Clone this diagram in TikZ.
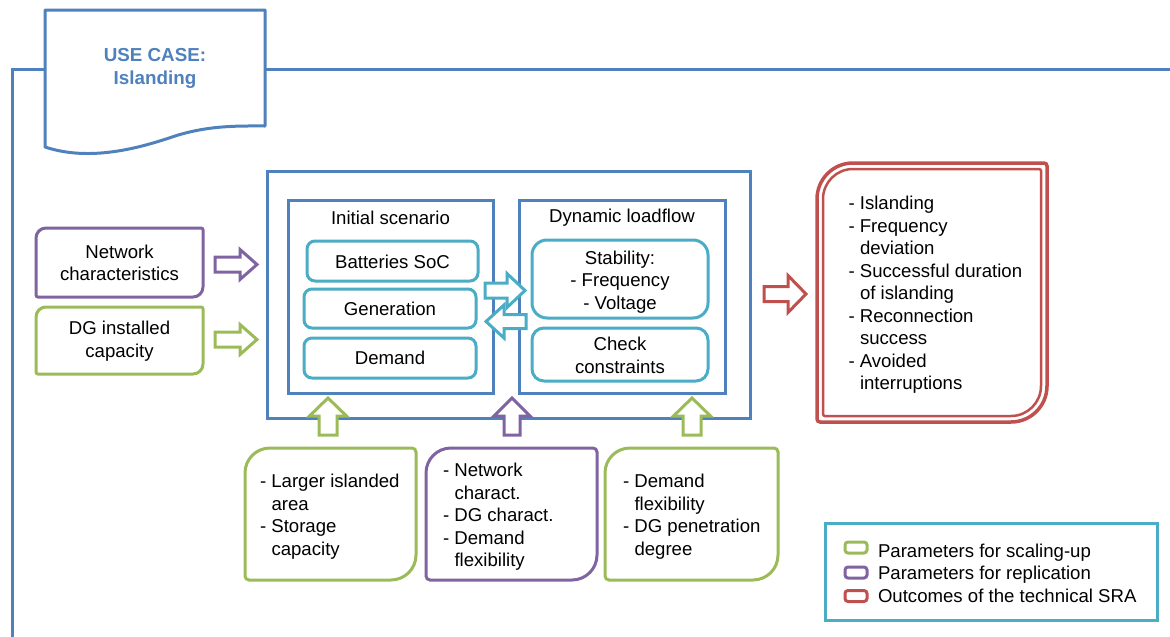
\documentclass[tikz,border=0pt]{standalone}
\usepackage{fontspec}
\setmainfont{Liberation Sans}
\usetikzlibrary{shadows}
\definecolor{cblue}{HTML}{4F81BD}
\definecolor{cteal}{HTML}{4BACC6}
\definecolor{cgreen}{HTML}{9BBB59}
\definecolor{cpurple}{HTML}{8064A2}
\definecolor{cred}{HTML}{C0504D}
\newcommand{\diagpath}[4]{%
  \draw[#2] ([yshift=-#3]#1.north west) arc[start angle=180,end angle=90,radius=#3]
    -- ([xshift=-#4]#1.north east) arc[start angle=90,end angle=0,radius=#4]
    -- ([yshift=#3]#1.south east) arc[start angle=0,end angle=-90,radius=#3]
    -- ([xshift=#4]#1.south west) arc[start angle=270,end angle=180,radius=#4] -- cycle;}
\newcommand{\barrow}[8]{%
  \begin{scope}[shift={(#2,#3)},rotate=#4]
    \draw[#1] (0,-#6) -- (#5-#8,-#6) -- (#5-#8,-#7) -- (#5,0) -- (#5-#8,#7) -- (#5-#8,#6) -- (0,#6) -- cycle;
  \end{scope}}
\newcommand{\ind}{\hspace*{11.5pt}}
\tikzset{
  txt/.style={font=\fontsize{18.6}{22.5}\selectfont, inner sep=0pt, outer sep=0pt, text=black},
  shapebox/.style={inner sep=0pt, outer sep=0pt, draw=none},
  bluebox/.style={draw=cblue, line width=3pt, fill=white, inner sep=0pt, outer sep=0pt,
    drop shadow={shadow xshift=2pt, shadow yshift=-2pt, opacity=0.3, fill=black!60}},
  tealbox/.style={draw=cteal, line width=3pt, fill=white, inner sep=0pt, outer sep=0pt},
  barr/.style={fill=white, line width=3pt, line join=miter},
  legitem/.style={line width=3pt, rounded corners=3pt, minimum width=22pt, minimum height=11pt, inner sep=0pt, fill=white},
}
\begin{document}
\begin{tikzpicture}[x=1pt,y=1pt]
\useasboundingbox (0,0) rectangle (1170,-637);
% frame lines
\coordinate (fbot) at (12,-637);
\coordinate (fcorner) at (12,-69);
\coordinate (fleft) at (45,-69);
\coordinate (fright) at (265,-69);
\coordinate (fend) at (1170,-69);
\draw[cblue, line width=3pt] (fbot) -- (fcorner) -- (fleft);
\draw[cblue, line width=3pt] (fright) -- (fend);
% document shape
\draw[cblue, line width=3pt, fill=white, line join=round] (45,-10) -- (265,-10) -- (265,-126)
  .. controls (240,-126) and (210,-125) .. (175,-136)
  .. controls (140,-148) and (90,-162) .. (45,-147) -- cycle;
\node[font=\fontsize{18.8}{23}\selectfont\bfseries, text=cblue, align=center] (title) at (155,-68.5) {USE CASE:\\Islanding};

% left parameter boxes
\node[shapebox, minimum width=167pt, minimum height=69pt] (netbox) at (119.5,-262.5) {};
\diagpath{netbox}{cpurple, line width=3pt}{10pt}{2pt}
\node[txt, align=center] (nettxt) at (119.5,-263) {Network\\characteristics};
\node[shapebox, minimum width=167pt, minimum height=67pt] (dgbox) at (119.5,-340.5) {};
\diagpath{dgbox}{cgreen, line width=3pt}{10pt}{2pt}
\node[txt, align=center] (dgtxt) at (119.5,-341) {DG installed\\capacity};

% outer box
\node[bluebox, minimum width=483pt, minimum height=247pt] (outer) at (508.5,-294.5) {};
\node[bluebox, minimum width=205pt, minimum height=193pt] (init) at (390.5,-296.5) {};
\node[bluebox, minimum width=206pt, minimum height=193pt] (dyn) at (622,-296.5) {};
\node[txt] (inittitle) at (390.5,-218) {Initial scenario};
\node[txt] (dyntitle) at (622,-218) {Dynamic loadflow};
\node[tealbox, rounded corners=8pt, minimum width=171pt, minimum height=40pt] (bat) at (392.5,-261) {};
\node[txt] (battxt) at (392.5,-261.5) {Batteries SoC};
\node[tealbox, rounded corners=8pt, minimum width=172pt, minimum height=39pt] (gen) at (390,-308.5) {};
\node[txt] (gentxt) at (390,-309) {Generation};
\node[tealbox, rounded corners=8pt, minimum width=172pt, minimum height=40pt] (dem) at (390,-358) {};
\node[txt] (demtxt) at (390,-358) {Demand};
\node[tealbox, rounded corners=15pt, minimum width=176pt, minimum height=78pt] (stab) at (620,-279) {};
\node[txt, align=center] (stabtxt) at (620,-282) {Stability:\\- Frequency\\- Voltage};
\node[tealbox, rounded corners=12pt, minimum width=176pt, minimum height=53pt] (check) at (620,-354.5) {};
\node[txt, align=center] (checktxt) at (620,-355.5) {Check\\constraints};

% arrows
\barrow{barr, draw=cpurple}{215}{-264.5}{0}{42}{7.5}{15}{17}
\barrow{barr, draw=cgreen}{215}{-339.5}{0}{42}{7.5}{15}{17}
\barrow{barr, draw=cteal}{485}{-290.5}{0}{40}{7.5}{17}{18}
\barrow{barr, draw=cteal}{526}{-321.5}{180}{40}{7}{16.5}{18}
\barrow{barr, draw=cred}{764}{-294}{0}{42}{7.5}{18.5}{18}
\barrow{barr, draw=cgreen}{328}{-435}{90}{37}{9}{18.5}{18}
\barrow{barr, draw=cpurple}{512}{-435}{90}{37}{8}{18}{18}
\barrow{barr, draw=cgreen}{692}{-435}{90}{37}{9}{18.5}{18}

% output box
\node[shapebox, minimum width=230pt, minimum height=259pt] (outbox) at (932,-292.5) {};
\diagpath{outbox}{cred, line width=3.5pt}{36pt}{3pt}
\node[shapebox, minimum width=218pt, minimum height=247pt] (outinner) at (932,-292.5) {};
\diagpath{outinner}{cred, line width=2.5pt}{30pt}{2pt}
\node[txt, align=left, anchor=west] (outtxt) at (848.5,-295) {- Islanding\\- Frequency\\\ind deviation\\- Successful duration\\\ind of islanding\\- Reconnection\\\ind success\\- Avoided\\\ind interruptions};

% bottom boxes
\node[shapebox, minimum width=171pt, minimum height=132pt] (scale1) at (330.5,-514) {};
\diagpath{scale1}{cgreen, line width=3pt}{25pt}{4pt}
\node[txt, align=left, anchor=west] (scale1txt) at (260,-516.5) {- Larger islanded\\\ind area\\- Storage\\\ind capacity};
\node[shapebox, minimum width=171pt, minimum height=132pt] (repl) at (511.5,-514) {};
\diagpath{repl}{cpurple, line width=3pt}{25pt}{4pt}
\node[txt, align=left, anchor=west] (repltxt) at (443,-517) {- Network\\\ind charact.\\- DG charact.\\- Demand\\\ind flexibility};
\node[shapebox, minimum width=173pt, minimum height=132pt] (scale2) at (691.5,-514) {};
\diagpath{scale2}{cgreen, line width=3pt}{25pt}{4pt}
\node[txt, align=left, anchor=west] (scale2txt) at (623,-516.5) {- Demand\\\ind flexibility\\- DG penetration\\\ind degree};

% legend
\node[draw=cteal, line width=3pt, minimum width=332pt, minimum height=97pt, inner sep=0pt, outer sep=0pt] (legend) at (991,-571.5) {};
\node[legitem, draw=cgreen] (lg1) at (856,-547.5) {};
\node[legitem, draw=cpurple] (lg2) at (856,-572.5) {};
\node[legitem, draw=cred] (lg3) at (856,-596) {};
\node[txt, anchor=base west] (lt1) at (878,-557) {Parameters for scaling-up};
\node[txt, anchor=base west] (lt2) at (878,-579) {Parameters for replication};
\node[txt, anchor=base west] (lt3) at (878,-602) {Outcomes of the technical SRA};
\end{tikzpicture}
\end{document}
